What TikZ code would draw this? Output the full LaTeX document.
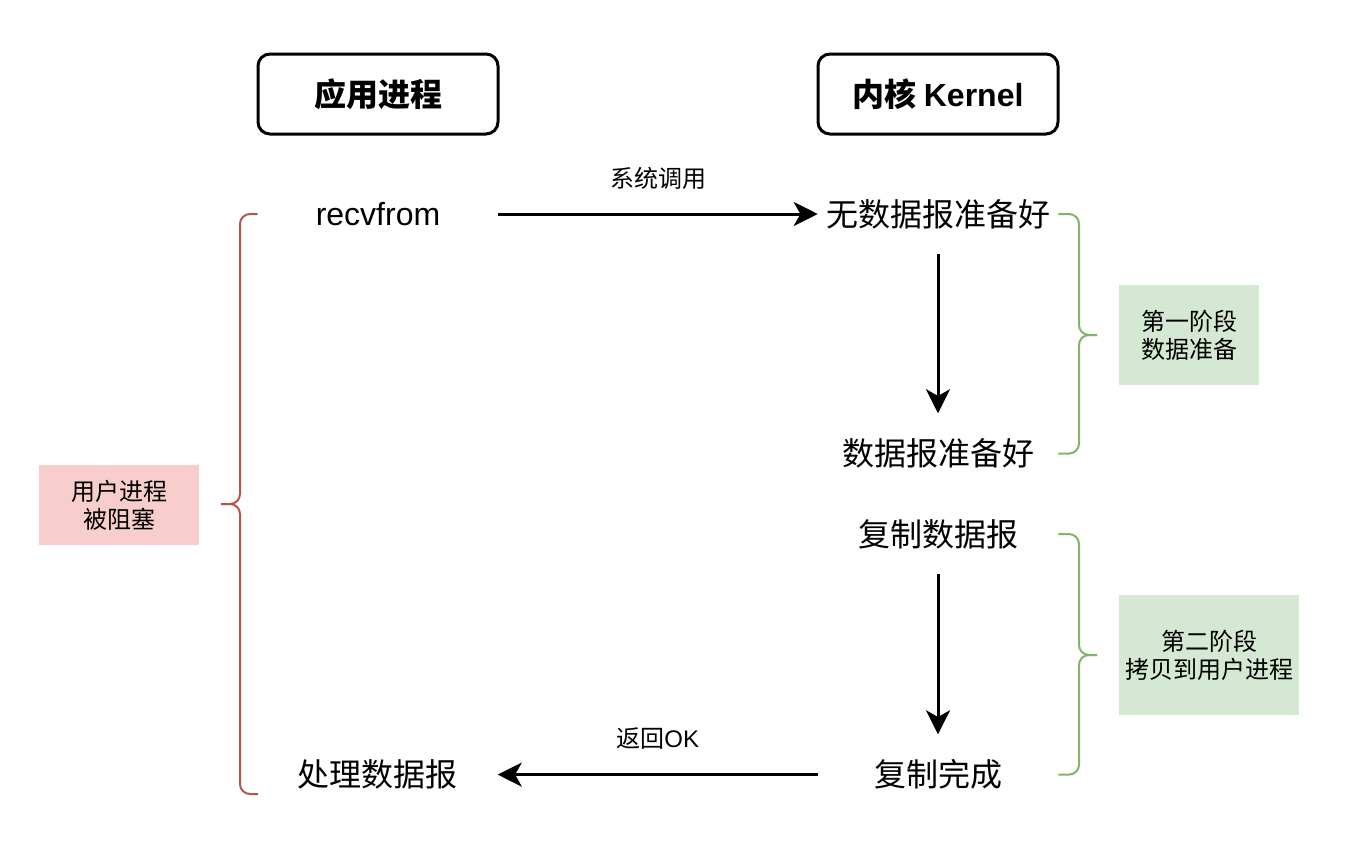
\documentclass[tikz,border=0pt]{standalone}
\usepackage{fontspec}
\setmainfont{Noto Sans CJK SC}
\newfontfamily\latin{Liberation Sans}
\usetikzlibrary{positioning,arrows.meta}
\definecolor{redline}{HTML}{B85450}
\definecolor{redfill}{HTML}{F8CECC}
\definecolor{greenline}{HTML}{82B366}
\definecolor{greenfill}{HTML}{D5E8D4}
\tikzset{
  side/.style={draw,line width=2.25pt,rounded corners=9pt,minimum width=180pt,minimum height=60pt,font=\fontsize{24}{28}\selectfont\bfseries},
  msg/.style={minimum width=180pt,minimum height=60pt,font=\fontsize{24}{28}\selectfont},
  note/.style={font=\fontsize{18}{21}\selectfont,align=center},
  call/.style={line width=2.25pt,-{Stealth[length=18pt,width=18pt,inset=5pt]}},
  brace/.style={line width=1.5pt,rounded corners=7.5pt},
}

\begin{document}
\begin{tikzpicture}[x=0.75pt,y=-0.75pt]
\useasboundingbox (0,0) rectangle (1360,846);

% the two sides
\node[side] (app) at (378,94) {应用进程};
\node[side] (kernel) at (938,94) {内核 {\latin Kernel}};

% steps
\node[msg] (recv) at (378,214) {\latin recvfrom};
\node[msg] (nodata) at (938,214) {无数据报准备好};
\node[msg] (ready) [below=119.25pt of nodata] {数据报准备好};
\node[msg] (copy) [below=0pt of ready] {复制数据报};
\node[msg] (done) [below=120pt of copy] {复制完成};
\node[msg] (handle) [left=240pt of done] {处理数据报};

\draw[call] (recv) -- (nodata) node[midway,yshift=27pt,note] {系统调用};
\draw[call] (nodata) -- (ready);
\draw[call] (copy) -- (done);
\draw[call] (done) -- (handle) node[midway,yshift=27pt,note] {返回{\latin OK}};

% blocked
\coordinate (blockend) at (258,794);
\draw[brace,redline] (recv.west) -| (240,504) -- (221,504);
\draw[brace,redline] (blockend) -| (240,504) -- (221,504);
\node[note,fill=redfill,minimum width=120pt,minimum height=60pt] (blocked) at (119,505) {用户进程\\被阻塞};

% phases
\draw[brace,greenline] (nodata.east) -| (1079,335) -- (1097,335);
\draw[brace,greenline] (ready.east) -| (1079,335) -- (1097,335);
\node[note,fill=greenfill,minimum width=105pt,minimum height=75pt] (phase1) at (1189,335) {第一阶段\\数据准备};

\draw[brace,greenline] (copy.east) -| (1079,655) -- (1097,655);
\draw[brace,greenline] (done.east) -| (1079,655) -- (1097,655);
\node[note,fill=greenfill,minimum width=135pt,minimum height=90pt] (phase2) at (1209,655) {第二阶段\\拷贝到用户进程};
\end{tikzpicture}
\end{document}
